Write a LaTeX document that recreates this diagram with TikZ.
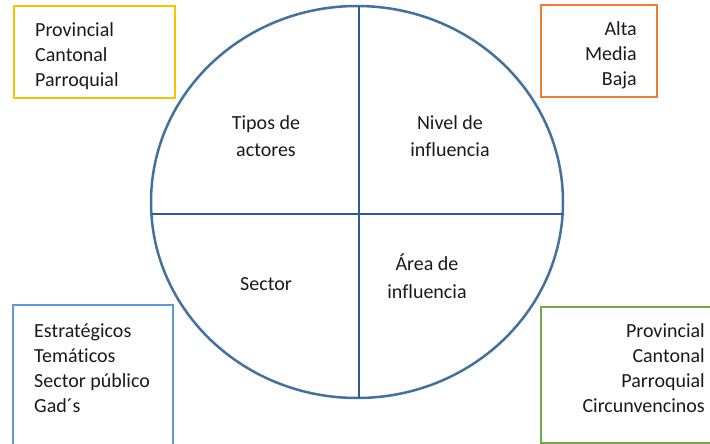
\documentclass[tikz,border=0pt]{standalone}
\usepackage{fontspec}
\setmainfont[Ligatures=CommonOff]{Carlito}
\definecolor{circ}{HTML}{41719C}
\definecolor{divl}{HTML}{2E5D8E}
\definecolor{cyel}{HTML}{FFC000}
\definecolor{corg}{HTML}{ED7D31}
\definecolor{cblu}{HTML}{5B9BD5}
\definecolor{cgrn}{HTML}{70AD47}
\definecolor{txt}{HTML}{1A1A1A}
\tikzset{
  box/.style={draw=#1, line width=2.5pt, rectangle},
  lab/.style={inner sep=0pt, text=txt, font=\fontsize{20}{25}\selectfont},
  qlab/.style={inner sep=0pt, text=txt, align=center, font=\fontsize{20}{27.5}\selectfont},
  divider/.style={draw=divl, line width=2.8pt}
}
\begin{document}
\begin{tikzpicture}[x=1pt,y=-1pt]
\useasboundingbox (0,0) rectangle (710,444);
% circle
\draw[circ, line width=2.5pt] (357,202) ellipse [x radius=206, y radius=196];
\coordinate (top) at (359,6);
\coordinate (bot) at (359,398);
\coordinate (lft) at (151.5,214);
\coordinate (rgt) at (562.5,214);
\draw[divider] (top) -- (bot);
\draw[divider] (lft) -- (rgt);
% quadrant labels
\node[qlab] (tipos) at (266,136) {Tipos de\\actores};
\node[qlab] (nivel) at (450,136) {Nivel de\\influencia};
\node[qlab] (sector) at (266,284) {Sector};
\node[qlab] (area) at (427,276) {Área de\\influencia};
% boxes
\draw[box=cyel] (14,6) rectangle (175,98);
\draw[box=corg] (541,5) rectangle (657,97);
\draw[box=cblu] (13,305) rectangle (173,460);
\draw[box=cgrn] (541,307) rectangle (720,443);
% box texts
\node[lab, align=left, anchor=west] (t1) at (35,56) {Provincial\\Cantonal\\Parroquial};
\node[lab, align=right, anchor=east] (t2) at (637,55) {Alta\\Media\\Baja};
\node[lab, align=left, anchor=west] (t3) at (34,368) {Estratégicos\\Temáticos\\Sector público\\Gad´s};
\node[lab, align=right, anchor=east] (t4) at (705,368) {Provincial\\Cantonal\\Parroquial\\Circunvencinos};
\end{tikzpicture}
\end{document}
